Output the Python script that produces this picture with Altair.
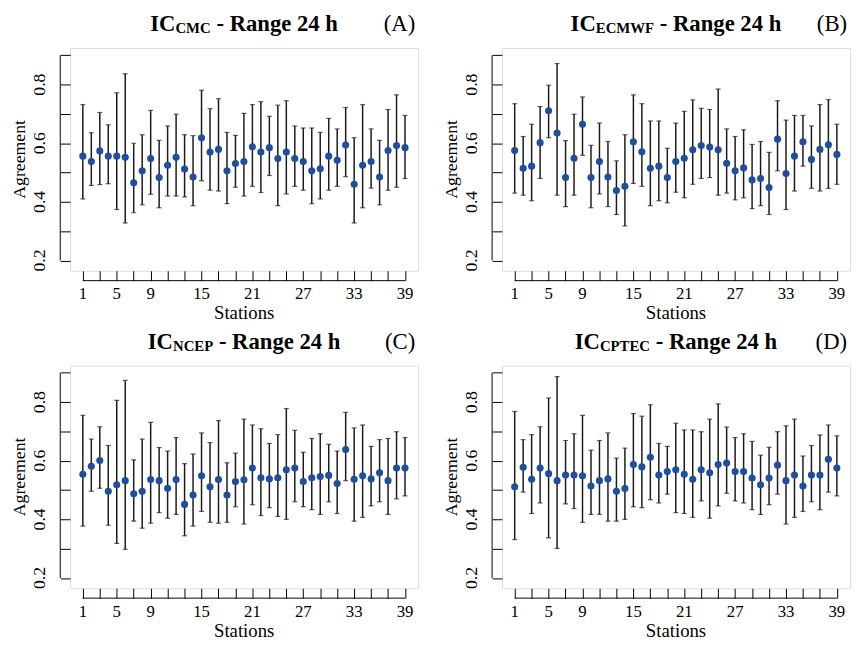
import altair as alt
import pandas as pd

stations = list(range(1, 40))

A_mid = [0.556,0.538,0.574,0.556,0.556,0.552,0.465,0.506,0.548,0.483,0.525,0.552,0.512,0.485,0.619,0.570,0.579,0.506,0.531,0.538,0.588,0.570,0.585,0.548,0.570,0.548,0.538,0.506,0.513,0.556,0.542,0.594,0.460,0.525,0.538,0.485,0.575,0.592,0.585]
A_hi = [0.732,0.636,0.705,0.663,0.772,0.837,0.600,0.629,0.712,0.610,0.659,0.699,0.629,0.626,0.781,0.718,0.752,0.637,0.627,0.702,0.732,0.742,0.692,0.730,0.745,0.659,0.652,0.652,0.637,0.685,0.649,0.722,0.619,0.732,0.649,0.610,0.715,0.765,0.695]
A_lo = [0.410,0.456,0.459,0.462,0.374,0.328,0.363,0.390,0.426,0.380,0.420,0.420,0.417,0.387,0.472,0.440,0.437,0.394,0.450,0.420,0.453,0.432,0.490,0.387,0.427,0.453,0.440,0.394,0.410,0.440,0.453,0.486,0.328,0.380,0.447,0.390,0.440,0.450,0.480]

B_mid = [0.575,0.515,0.522,0.602,0.711,0.635,0.483,0.549,0.665,0.483,0.538,0.485,0.439,0.453,0.605,0.571,0.515,0.522,0.483,0.538,0.549,0.578,0.592,0.587,0.578,0.532,0.506,0.516,0.475,0.480,0.449,0.614,0.497,0.556,0.605,0.545,0.579,0.595,0.562]
B_hi = [0.735,0.623,0.665,0.725,0.798,0.872,0.609,0.699,0.758,0.593,0.669,0.606,0.540,0.629,0.765,0.735,0.676,0.676,0.583,0.669,0.709,0.748,0.719,0.715,0.785,0.649,0.623,0.646,0.596,0.606,0.569,0.745,0.679,0.695,0.695,0.659,0.732,0.749,0.665]
B_lo = [0.430,0.423,0.404,0.480,0.619,0.423,0.384,0.423,0.559,0.380,0.427,0.384,0.357,0.318,0.463,0.453,0.387,0.404,0.397,0.433,0.414,0.460,0.480,0.483,0.423,0.430,0.407,0.414,0.377,0.387,0.357,0.506,0.374,0.437,0.522,0.446,0.437,0.446,0.460]

C_mid = [0.554,0.581,0.601,0.496,0.518,0.532,0.487,0.496,0.536,0.532,0.506,0.536,0.451,0.483,0.549,0.511,0.536,0.483,0.529,0.535,0.575,0.542,0.538,0.542,0.569,0.575,0.529,0.542,0.546,0.550,0.522,0.638,0.537,0.549,0.538,0.559,0.532,0.575,0.575]
C_hi = [0.755,0.674,0.716,0.652,0.806,0.874,0.603,0.674,0.731,0.645,0.633,0.679,0.590,0.623,0.695,0.662,0.737,0.593,0.626,0.742,0.722,0.709,0.659,0.689,0.778,0.704,0.629,0.676,0.692,0.656,0.633,0.765,0.712,0.722,0.649,0.672,0.676,0.699,0.679]
C_lo = [0.377,0.496,0.506,0.380,0.318,0.298,0.394,0.370,0.387,0.423,0.404,0.417,0.344,0.377,0.427,0.390,0.387,0.390,0.443,0.384,0.450,0.413,0.440,0.410,0.400,0.460,0.443,0.433,0.417,0.460,0.420,0.532,0.394,0.407,0.446,0.460,0.417,0.470,0.480]

D_mid = [0.511,0.578,0.537,0.575,0.556,0.532,0.551,0.551,0.549,0.514,0.532,0.538,0.496,0.505,0.587,0.579,0.612,0.551,0.563,0.569,0.554,0.537,0.569,0.559,0.587,0.592,0.563,0.563,0.541,0.518,0.541,0.585,0.532,0.551,0.514,0.551,0.551,0.605,0.575]
D_hi = [0.768,0.672,0.689,0.716,0.814,0.887,0.669,0.692,0.755,0.636,0.669,0.695,0.609,0.643,0.761,0.752,0.791,0.659,0.649,0.728,0.705,0.705,0.699,0.742,0.794,0.715,0.679,0.692,0.666,0.619,0.646,0.699,0.719,0.742,0.616,0.652,0.688,0.722,0.685]
D_lo = [0.331,0.493,0.420,0.456,0.337,0.301,0.453,0.437,0.390,0.417,0.417,0.394,0.394,0.400,0.443,0.440,0.467,0.456,0.486,0.423,0.420,0.407,0.463,0.404,0.446,0.489,0.463,0.456,0.433,0.417,0.450,0.486,0.384,0.407,0.427,0.460,0.433,0.493,0.480]

panels = [
    ("CMC", "(A)", A_mid, A_lo, A_hi),
    ("ECMWF", "(B)", B_mid, B_lo, B_hi),
    ("NCEP", "(C)", C_mid, C_lo, C_hi),
    ("CPTEC", "(D)", D_mid, D_lo, D_hi),
]

y_ticks = [0.2, 0.3, 0.4, 0.5, 0.6, 0.7, 0.8, 0.9]
y_labels = [0.2, 0.4, 0.6, 0.8]
x_ticks = list(range(1, 40, 2))
x_labels = [1, 5, 9, 15, 21, 27, 33, 39]
x_title = "Stations"
y_title = "Agreement"

FONT = "Liberation Serif"
W, H = 353, 226
PT_COLOR = "#1f4e9e"
BAR_COLOR = "#1a1a1a"

BOLD = {' ': 250, '(': 333, ')': 333, '-': 333, '2': 500, '4': 500, 'A': 722, 'B': 667,
        'C': 722, 'D': 722, 'E': 667, 'F': 611, 'I': 389, 'M': 944, 'N': 722, 'P': 611,
        'R': 722, 'T': 667, 'W': 1000, 'a': 500, 'e': 444, 'g': 500, 'h': 556, 'n': 556}


def tw(s, size):
    return sum(BOLD[c] for c in s) * size / 1000.0


xs = alt.Scale(domain=[-0.5, 40.55], nice=False, zero=False)
ys = alt.Scale(domain=[0.165, 0.925], nice=False, zero=False)

x_axis = alt.Axis(values=x_ticks, labels=False, domain=False, grid=False,
                  tickSize=10, tickColor="black", tickWidth=1)
y_axis = alt.Axis(values=y_ticks, labels=False, domain=False, grid=False,
                  tickSize=10, tickColor="black", tickWidth=1)


def X(field):
    return alt.X(field, type="quantitative", scale=xs, axis=x_axis, title=None)


def Y(field):
    return alt.Y(field, type="quantitative", scale=ys, axis=y_axis, title=None)


def text_layer(txt, px, py, size, weight, align, angle=0, baseline="alphabetic"):
    return alt.Chart(pd.DataFrame({"t": [txt]})).mark_text(
        font=FONT, fontSize=size, fontWeight=weight, color="black",
        align=align, baseline=baseline, angle=angle
    ).encode(text="t:N", x=alt.value(px), y=alt.value(py))


def panel(sub, letter, mid, lo, hi):
    df = pd.DataFrame({"station": stations, "mid": mid, "lo": lo, "hi": hi})
    base = alt.Chart(df)
    bars = base.mark_rule(color=BAR_COLOR, strokeWidth=1.5).encode(
        x=X("station"), y=Y("lo"), y2="hi")
    cap_lo = base.mark_tick(orient="horizontal", size=5, thickness=1.2, color=BAR_COLOR).encode(
        x=X("station"), y=Y("lo"))
    cap_hi = base.mark_tick(orient="horizontal", size=5, thickness=1.2, color=BAR_COLOR).encode(
        x=X("station"), y=Y("hi"))
    pts = base.mark_point(filled=True, shape="circle", size=52, color=PT_COLOR, opacity=1).encode(
        x=X("station"), y=Y("mid"))

    yline = alt.Chart(pd.DataFrame({"a": [y_ticks[0]], "b": [y_ticks[-1]]})).mark_rule(
        color="black", strokeWidth=1).encode(x=alt.value(-10), y=Y("a"), y2="b")
    xline = alt.Chart(pd.DataFrame({"a": [x_ticks[0]], "b": [x_ticks[-1]]})).mark_rule(
        color="black", strokeWidth=1).encode(y=alt.value(H + 10), x=X("a"), x2="b")

    xl = alt.Chart(pd.DataFrame({"v": x_labels, "t": [str(v) for v in x_labels]})).mark_text(
        font=FONT, fontSize=17, color="black", align="center", baseline="alphabetic"
    ).encode(x=X("v"), y=alt.value(H + 29), text="t:N")
    yl = alt.Chart(pd.DataFrame({"v": y_labels, "t": ["%.1f" % v for v in y_labels]})).mark_text(
        font=FONT, fontSize=18, color="black", align="center", baseline="alphabetic", angle=270
    ).encode(y=Y("v"), x=alt.value(-25), text="t:N")
    xt = text_layer(x_title, W / 2, H + 49, 19, "normal", "center")
    yt = text_layer(y_title, -46, H / 2, 18, "normal", "center", angle=270)

    big, small = 23, 15
    rest = "- Range 24 h"
    w_ic = tw("IC", big)
    w_sub = tw(sub, small)
    w_sp = tw(" ", big)
    total = w_ic + w_sub + w_sp + tw(rest, big)
    x0 = W / 2 - total / 2
    ty = -17
    t1 = text_layer("IC", x0, ty, big, "bold", "left")
    t2 = text_layer(sub, x0 + w_ic, ty + 2, small, "bold", "left")
    t3 = text_layer(rest, x0 + w_ic + w_sub + w_sp, ty, big, "bold", "left")
    t4 = text_layer(letter, W - 3, ty, 23, "normal", "right")

    return alt.layer(bars, cap_lo, cap_hi, pts, yline, xline, xl, yl, xt, yt,
                     t1, t2, t3, t4).properties(width=W, height=H)


charts = [panel(*p) for p in panels]

chart = alt.concat(
    *charts, columns=2, spacing={"row": 96, "column": 85}, bounds="flush"
).properties(
    padding={"left": 2, "top": 0, "right": 0, "bottom": 0}
).configure_view(
    stroke="black", strokeWidth=1.2
).configure(font=FONT, background="white")

chart.save("out.html", embed_options={"renderer": "svg", "actions": False})
